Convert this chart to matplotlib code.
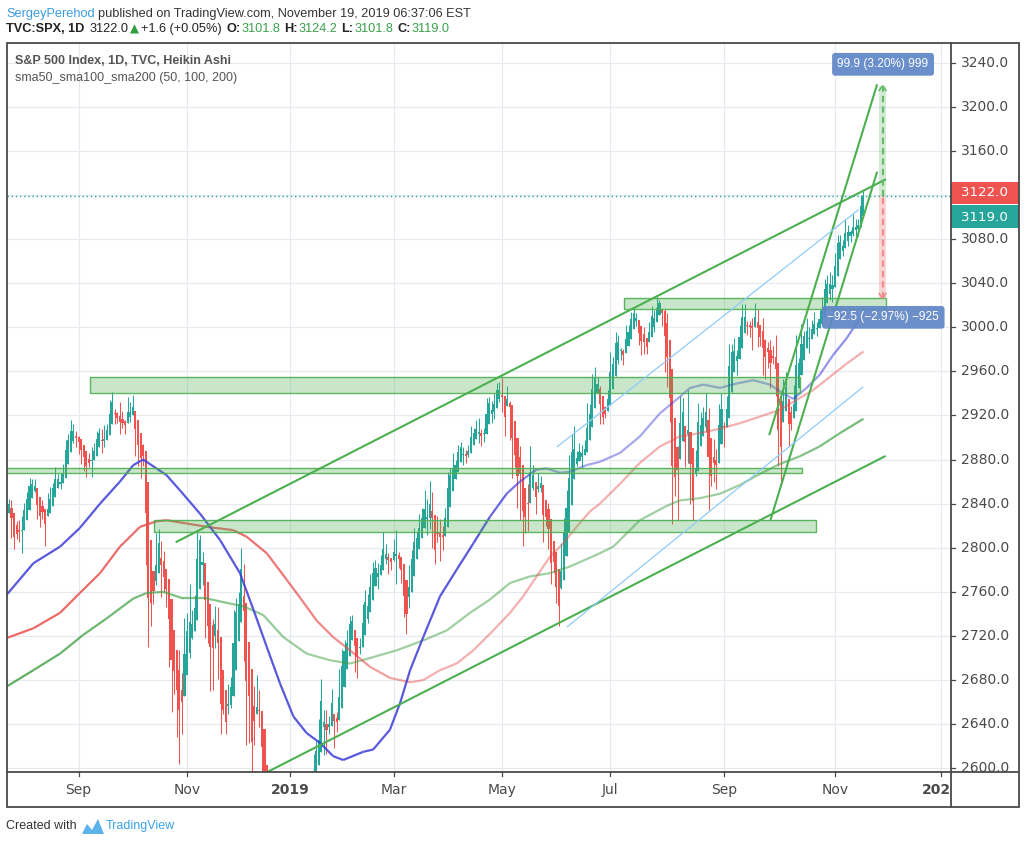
import numpy as np
import pandas as pd
import matplotlib
matplotlib.use('Agg')
import matplotlib.pyplot as plt
from matplotlib.collections import LineCollection
from matplotlib.patches import Rectangle, Polygon
from matplotlib.lines import Line2D
from matplotlib.colors import to_rgba

W, H = 1026, 844

# TVC:SPX daily, Jul 25 2018 .. Nov 18 2019 (open = previous close)
first_open = 2817.0
close = [
    2846, 2837, 2818, 2802, 2816,
    2813, 2827, 2840, 2850, 2858, 2858, 2853, 2833, 2821, 2840, 2818, 2840, 2850, 2857, 2863, 2862, 2856, 2875, 2897, 2898, 2914, 2901, 2902,
    2896, 2888, 2878, 2871, 2877, 2887, 2888, 2904, 2905, 2888, 2904, 2907, 2931, 2930, 2919, 2916, 2906, 2914, 2914,
    2924, 2923, 2926, 2902, 2886, 2884, 2881, 2786, 2728, 2767, 2750, 2809, 2809, 2769, 2768, 2756, 2741, 2657, 2706, 2659, 2641, 2682, 2712,
    2740, 2723, 2738, 2756, 2814, 2807, 2781, 2726, 2722, 2702, 2730, 2736, 2690, 2642, 2650, 2633, 2674, 2682, 2744, 2738, 2760,
    2790, 2700, 2696, 2633, 2638, 2636, 2651, 2650, 2600, 2546, 2546, 2507, 2467, 2417, 2351, 2468, 2489, 2486, 2507,
    2510, 2448, 2532, 2550, 2574, 2585, 2597, 2596, 2583, 2610, 2617, 2636, 2671, 2633, 2639, 2643, 2665, 2644, 2640, 2681, 2704,
    2707, 2725, 2738, 2732, 2706, 2708, 2709, 2744, 2753, 2746, 2776, 2780, 2784, 2775, 2793, 2796, 2793, 2792, 2784,
    2804, 2792, 2789, 2771, 2749, 2743, 2784, 2792, 2811, 2808, 2822, 2833, 2832, 2824, 2855, 2801, 2798, 2818, 2806, 2815, 2834,
    2867, 2867, 2873, 2880, 2893, 2896, 2879, 2888, 2888, 2907, 2906, 2908, 2900, 2905, 2907, 2934, 2927, 2926, 2940, 2943, 2946,
    2924, 2918, 2946, 2932, 2884, 2880, 2871, 2881, 2812, 2834, 2851, 2876, 2860, 2840, 2864, 2856, 2823, 2826, 2802, 2783, 2789, 2752,
    2744, 2803, 2826, 2843, 2873, 2886, 2885, 2879, 2891, 2887, 2889, 2917, 2926, 2954, 2950, 2945, 2917, 2913, 2924, 2942,
    2964, 2973, 2996, 2990, 2976, 2979, 2993, 3000, 3014, 3014, 3004, 2984, 2995, 2977, 2986, 3005, 3019, 3004, 3026, 3021, 3013, 2980,
    2953, 2932, 2844, 2881, 2884, 2938, 2919, 2883, 2926, 2840, 2848, 2889, 2923, 2900, 2925, 2922, 2847, 2878, 2869, 2888, 2924, 2926,
    2906, 2937, 2976, 2979, 2979, 2979, 3001, 3010, 3007, 2998, 3006, 3006, 3006, 2992, 2992, 2966, 2984, 2977, 2961, 2977,
    2940, 2887, 2911, 2952, 2938, 2893, 2919, 2938, 2970, 2966, 2996, 2990, 2998, 2986, 3007, 2996, 3005, 3010, 3023, 3040, 3036, 3047, 3038,
    3067, 3078, 3075, 3077, 3085, 3093, 3087, 3092, 3094, 3097, 3120, 3122,
]
high = [
    2848, 2844, 2843, 2821, 2824,
    2825, 2829, 2841, 2851, 2863, 2862, 2862, 2842, 2843, 2843, 2827, 2850, 2855, 2859, 2873, 2867, 2868, 2876, 2898, 2903, 2916, 2912, 2906,
    2901, 2893, 2892, 2884, 2886, 2891, 2895, 2906, 2909, 2908, 2911, 2912, 2934, 2941, 2926, 2923, 2932, 2924, 2916,
    2937, 2932, 2939, 2919, 2910, 2894, 2894, 2874, 2795, 2775, 2776, 2813, 2817, 2806, 2797, 2779, 2753, 2743, 2723, 2692, 2707, 2686, 2736,
    2741, 2767, 2744, 2757, 2815, 2812, 2796, 2784, 2755, 2747, 2735, 2747, 2746, 2670, 2671, 2655, 2676, 2683, 2744, 2754, 2760,
    2800, 2785, 2698, 2709, 2640, 2675, 2685, 2671, 2634, 2601, 2573, 2585, 2510, 2505, 2410, 2468, 2489, 2520, 2510,
    2519, 2493, 2538, 2566, 2580, 2595, 2597, 2597, 2589, 2613, 2625, 2645, 2681, 2653, 2653, 2647, 2672, 2645, 2651, 2690, 2708,
    2716, 2724, 2738, 2739, 2719, 2708, 2718, 2749, 2762, 2758, 2776, 2787, 2789, 2786, 2793, 2814, 2803, 2795, 2791,
    2808, 2816, 2796, 2790, 2767, 2744, 2784, 2798, 2818, 2814, 2831, 2836, 2852, 2844, 2861, 2851, 2809, 2829, 2826, 2820, 2836,
    2869, 2872, 2886, 2880, 2893, 2896, 2891, 2889, 2893, 2910, 2909, 2916, 2918, 2908, 2909, 2936, 2937, 2933, 2940, 2949, 2950,
    2954, 2931, 2947, 2933, 2920, 2898, 2875, 2892, 2840, 2852, 2858, 2892, 2875, 2853, 2868, 2865, 2836, 2841, 2841, 2791, 2799, 2768,
    2763, 2804, 2827, 2852, 2884, 2903, 2910, 2888, 2895, 2893, 2898, 2931, 2930, 2958, 2964, 2955, 2947, 2932, 2929, 2943,
    2978, 2973, 2996, 2993, 2981, 2980, 3002, 3002, 3014, 3017, 3013, 3006, 2996, 3000, 2990, 3005, 3019, 3016, 3027, 3025, 3017, 3017,
    3013, 2945, 2898, 2884, 2892, 2938, 2936, 2909, 2943, 2898, 2857, 2888, 2931, 2923, 2928, 2940, 2927, 2879, 2899, 2890, 2930, 2940,
    2914, 2938, 2985, 2985, 2990, 2979, 3002, 3021, 3021, 3006, 3006, 3008, 3022, 3017, 2999, 3008, 2989, 2987, 2988, 2983,
    2993, 2925, 2911, 2953, 2959, 2925, 2929, 2948, 2993, 2972, 3003, 2997, 3008, 3000, 3007, 3014, 3005, 3016, 3027, 3044, 3047, 3050, 3047,
    3067, 3084, 3084, 3079, 3098, 3093, 3088, 3103, 3098, 3098, 3120, 3124,
]
low = [
    2817, 2832, 2809, 2799, 2808,
    2805, 2795, 2828, 2835, 2854, 2853, 2851, 2826, 2819, 2826, 2802, 2833, 2833, 2850, 2858, 2856, 2853, 2860, 2885, 2894, 2897, 2895, 2891,
    2885, 2876, 2870, 2864, 2873, 2864, 2881, 2896, 2899, 2886, 2891, 2903, 2914, 2927, 2912, 2913, 2903, 2909, 2903,
    2917, 2914, 2922, 2883, 2874, 2863, 2874, 2784, 2710, 2729, 2749, 2766, 2784, 2755, 2760, 2746, 2692, 2651, 2667, 2628, 2604, 2631, 2685,
    2705, 2700, 2717, 2729, 2774, 2795, 2766, 2718, 2714, 2670, 2671, 2709, 2681, 2631, 2649, 2631, 2649, 2655, 2684, 2731, 2738,
    2774, 2697, 2621, 2623, 2583, 2621, 2650, 2637, 2593, 2530, 2528, 2489, 2441, 2409, 2351, 2347, 2398, 2473, 2488,
    2467, 2444, 2474, 2525, 2547, 2568, 2562, 2581, 2570, 2585, 2612, 2606, 2655, 2612, 2613, 2631, 2657, 2618, 2633, 2648, 2678,
    2697, 2696, 2724, 2727, 2687, 2682, 2704, 2724, 2745, 2732, 2760, 2767, 2775, 2763, 2778, 2794, 2785, 2776, 2780,
    2788, 2767, 2782, 2768, 2737, 2722, 2745, 2786, 2799, 2801, 2810, 2818, 2823, 2812, 2817, 2800, 2785, 2805, 2788, 2798, 2823,
    2848, 2858, 2865, 2867, 2882, 2880, 2875, 2877, 2882, 2898, 2896, 2901, 2895, 2892, 2896, 2908, 2926, 2913, 2917, 2939, 2932,
    2923, 2901, 2929, 2898, 2863, 2873, 2836, 2825, 2802, 2813, 2815, 2855, 2852, 2831, 2851, 2851, 2805, 2820, 2799, 2767, 2777, 2750,
    2729, 2763, 2800, 2822, 2853, 2884, 2878, 2874, 2881, 2873, 2886, 2896, 2913, 2938, 2947, 2944, 2912, 2912, 2918, 2929,
    2952, 2956, 2978, 2967, 2970, 2966, 2984, 2988, 3001, 3008, 3001, 2984, 2975, 2976, 2976, 2988, 2997, 2996, 3012, 3015, 3001, 2959,
    2946, 2914, 2822, 2847, 2825, 2894, 2900, 2873, 2877, 2840, 2825, 2865, 2914, 2899, 2917, 2905, 2834, 2856, 2860, 2853, 2905, 2914,
    2891, 2921, 2960, 2972, 2967, 2957, 2981, 3004, 3001, 2993, 2991, 2979, 3003, 2982, 2983, 2957, 2953, 2963, 2945, 2967,
    2938, 2874, 2856, 2918, 2935, 2892, 2907, 2918, 2963, 2962, 2973, 2986, 2991, 2977, 2992, 2995, 2992, 3000, 3001, 3033, 3033, 3025, 3023,
    3050, 3078, 3072, 3065, 3081, 3074, 3077, 3083, 3078, 3083, 3104, 3112,
]

holidays = ['2018-09-03', '2018-11-22', '2018-12-05', '2018-12-25', '2019-01-01',
            '2019-01-21', '2019-02-18', '2019-04-19', '2019-05-27', '2019-07-04',
            '2019-09-02', '2019-11-28', '2019-12-25', '2020-01-01']
month_starts = ['2018-09-01', '2018-11-01', '2019-01-01', '2019-03-01', '2019-05-01',
                '2019-07-01', '2019-09-01', '2019-11-01', '2020-01-01']
month_labels = ['Sep', 'Nov', '2019', 'Mar', 'May', 'Jul', 'Sep', 'Nov', '2020']
price_ticks = list(range(2600, 3241, 40))

# moving averages (bar index, value)
sma50_x = [0, 10.5, 20.8, 28.5, 36.3, 44, 49.2, 53, 62, 67.3, 75, 82.8, 90.5, 95.7, 100.9, 106, 111.2,
           116.3, 121.5, 126.6, 130.5, 138.3, 142.1, 148.6, 152.5, 156.4, 161.5, 168, 174.4, 180.9,
           187.3, 193.8, 198.9, 205.4, 209.3, 214.4, 218.3, 224.8, 229.9, 237.7, 245.4, 253.2, 260.9,
           264.8, 270, 276.4, 282.9, 289.3, 295.8, 300.9, 304.8, 310, 315.1, 320.3, 325.5, 329.4, 332]
sma50_y = [2757, 2786, 2801, 2818, 2840, 2860, 2875, 2880, 2866, 2852, 2831, 2807, 2777, 2744, 2710, 2677, 2647,
           2632, 2623, 2611, 2607.5, 2615, 2617, 2635, 2659, 2689, 2719, 2756, 2780, 2804,
           2828, 2849, 2860, 2871, 2872, 2868, 2869, 2875, 2878, 2886, 2901, 2922, 2937,
           2945, 2948, 2945, 2949, 2952, 2948, 2940, 2935, 2945, 2957, 2975, 2990, 3004, 3010]
sma100_x = [0, 10.5, 20.8, 28.5, 36.3, 44, 51.8, 58.2, 62.1, 69.9, 77.6, 87.9, 93.1, 100.9, 108.6, 113.7,
            120.2, 126.6, 133.1, 140.9, 148.6, 156.4, 161.5, 168, 174.4, 180.9, 188.6, 195.1, 200.2,
            205.4, 210.6, 215.7, 220.9, 226.1, 229.9, 237.7, 245.4, 253.2, 260.9, 268.7, 276.4, 284.2,
            291.9, 299.6, 307.4, 312.5, 319, 325.5, 332]
sma100_y = [2718, 2727, 2741, 2759, 2777, 2801, 2819, 2824, 2825, 2822, 2819, 2816, 2810, 2795, 2771, 2755,
            2734, 2719, 2707, 2692, 2682, 2678, 2680, 2689, 2695, 2707, 2725, 2741, 2756,
            2774, 2792, 2804, 2819, 2833, 2840, 2858, 2877, 2892, 2901, 2904, 2908, 2913,
            2919, 2925, 2936, 2943, 2955, 2967, 2978]
sma200_x = [0, 10.5, 20.8, 29.8, 38.9, 49.2, 54.4, 60.8, 68.6, 77.6, 85.4, 91.8, 99.5, 107.3, 116.3, 125.4,
            133.1, 140.9, 151.2, 161.5, 170.6, 179.6, 187.3, 195.1, 202.8, 210.6, 218.3, 229.9, 235.1,
            245.4, 255.8, 260.9, 268.7, 276.4, 284.2, 291.9, 299.6, 307.4, 315.1, 322.9, 332]
sma200_y = [2674, 2689, 2704, 2721, 2736, 2754, 2759, 2760, 2754, 2754, 2750, 2747, 2739, 2719, 2704, 2698,
            2695, 2700, 2707, 2716, 2725, 2741, 2753, 2768, 2774, 2777, 2783, 2795, 2801,
            2825, 2838, 2843, 2845, 2849, 2857, 2867, 2876, 2883, 2892, 2904, 2917]

# drawings (bar index, price)
zones = [(32.4, 307.4, 2940.5, 2954.7), (-5, 308.2, 2867.9, 2872.4),
         (57.3, 313.5, 2814.6, 2825.2), (239.2, 340.6, 3016.3, 3026.6)]
green_lines = [[(65.6, 2805.0), (340.7, 3134.3)], [(65.6, 2554.1), (340.6, 2883.3)],
               [(295.5, 2902.2), (337.3, 3220.3)], [(296.0, 2825.2), (337.3, 3141.0)]]
blue_lines = [[(213.4, 2891.7), (330.0, 3106.4)], [(217.3, 2728.4), (331.7, 2945.6)]]
last_price, ha_last = 3122.0, 3119.0
target_up, target_down = 3218.9, 3026.5
measure_x = 339.4

# heikin ashi
c = np.array(close, float)
h = np.maximum(np.array(high, float), c)
l = np.minimum(np.array(low, float), c)
o = np.r_[first_open, c[:-1]]
ha_c = (o + h + l + c) / 4
ha_o = np.empty_like(ha_c)
ha_o[0] = (o[0] + c[0]) / 2
for i in range(1, len(c)):
    ha_o[i] = (ha_o[i - 1] + ha_c[i - 1]) / 2
ha_h = np.maximum.reduce([h, ha_o, ha_c])
ha_l = np.minimum.reduce([l, ha_o, ha_c])
x = np.arange(len(c))

days = pd.bdate_range('2018-07-25', '2020-01-15')
days = days[~days.isin(pd.to_datetime(holidays))]
tick_idx = [int(np.searchsorted(days, pd.Timestamp(m))) for m in month_starts]

UP, DOWN = '#26a69a', '#ef5350'
FRAME = '#4a4a4a'
TXT = '#4a4a4a'

fig = plt.figure(figsize=(W / 100, H / 100), dpi=100)
fig.patch.set_facecolor('white')

def px(x0, y0):
    return x0 / W, 1 - y0 / H

L, R, T, B = 6.7, 950.7, 42.7, 771.7
ax = fig.add_axes([L / W, 1 - B / H, (R - L) / W, (B - T) / H])
xlim = (0.15, 365.8)
ylim = (2596.9, 3258.1)
ax.set_xlim(*xlim)
ax.set_ylim(*ylim)
ax.set_xticks([])
ax.set_yticks([])
for s in ax.spines.values():
    s.set_visible(False)

# grid
for t in tick_idx:
    ax.axvline(t, color='#e4eaef', lw=0.8, zorder=0)
for p in price_ticks:
    ax.axhline(p, color='#e4eaef', lw=0.8, zorder=0)

# candles
col = np.where(ha_c >= ha_o, UP, DOWN)
ax.vlines(x, ha_l, ha_h, colors=col, lw=0.75, zorder=2)
body_lo = np.minimum(ha_o, ha_c)
body_h = np.maximum(np.abs(ha_c - ha_o), 0.8)
ax.bar(x, body_h, bottom=body_lo, width=0.82, color=col, lw=0, zorder=2)

# moving averages with fading opacity
def sma_line(xs, ys, color, ax_pts, a_pts):
    xs = np.asarray(xs, float)
    ys = np.asarray(ys, float)
    pts = np.column_stack([xs, ys])
    segs = np.stack([pts[:-1], pts[1:]], axis=1)
    mids = (xs[:-1] + xs[1:]) / 2
    alphas = np.interp(mids, ax_pts, a_pts)
    lc = LineCollection(segs, colors=[to_rgba(color, a) for a in alphas],
                        linewidths=1.6, capstyle='butt', zorder=3)
    ax.add_collection(lc)

sma_line(sma200_x, sma200_y, '#43a047', [0, 40, 120, 280, 332], [0.85, 0.75, 0.5, 0.5, 0.75])
sma_line(sma100_x, sma100_y, '#e84e4e', [0, 100, 160, 332], [0.85, 0.8, 0.45, 0.45])
sma_line(sma50_x, sma50_y, '#3c3cd8', [0, 185, 215, 300, 332], [0.85, 0.85, 0.45, 0.45, 0.6])

# zones
for x0, x1, y0, y1 in zones:
    ax.add_patch(Rectangle((x0, y0), x1 - x0, y1 - y0, fc='#4caf50', alpha=0.3, lw=0, zorder=4))
    ax.add_patch(Rectangle((x0, y0), x1 - x0, y1 - y0, fill=False, ec='#4caf50', lw=1.0, alpha=0.9, zorder=4))

for (x0, y0), (x1, y1) in green_lines:
    ax.plot([x0, x1], [y0, y1], color='#4caf50', lw=1.5, zorder=5, solid_capstyle='butt')
for (x0, y0), (x1, y1) in blue_lines:
    ax.plot([x0, x1], [y0, y1], color='#90caf9', lw=0.9, zorder=5)

# last price line
ax.axhline(ha_last, color='#26a69a', lw=1.0, ls=(0, (1, 2)), zorder=5)

# measure tool
ax.add_patch(Rectangle((measure_x - 1.4, ha_last), 2.8, target_up - ha_last, fc='#4caf50', alpha=0.25, lw=0, zorder=5))
ax.add_patch(Rectangle((measure_x - 1.4, target_down), 2.8, ha_last - target_down, fc='#ef5350', alpha=0.25, lw=0, zorder=5))
ax.plot([measure_x, measure_x], [ha_last, target_up], color='#66bb6a', lw=1.5, ls=(0, (3, 2)), zorder=6)
ax.plot([measure_x, measure_x], [target_down, ha_last], color='#f28b8b', lw=1.5, ls=(0, (3, 2)), zorder=6)
ax.plot([measure_x - 1.3, measure_x, measure_x + 1.3], [target_up - 4, target_up, target_up - 4], color='#66bb6a', lw=1.2, zorder=6)
ax.plot([measure_x - 1.3, measure_x, measure_x + 1.3], [target_down + 4, target_down, target_down + 4], color='#f28b8b', lw=1.2, zorder=6)
up_pct = (target_up - ha_last) / ha_last * 100
dn_pct = (target_down - ha_last) / ha_last * 100
ax.text(339.6, 3238.5, f'{target_up - ha_last:.1f} ({up_pct:.2f}%) {round((target_up - ha_last) * 10)}',
        ha='center', va='center', color='white', fontsize=8.6, family='Liberation Sans', zorder=8,
        bbox=dict(boxstyle='round,pad=0.45,rounding_size=0.25', fc='#6a8fcb', ec='none'))
ax.text(339.7, 3009, f'\u2212{ha_last - target_down:.1f} (\u2212{-dn_pct:.2f}%) \u2212{round((ha_last - target_down) * 10)}',
        ha='center', va='center', color='white', fontsize=8.6, family='Liberation Sans', zorder=8,
        bbox=dict(boxstyle='round,pad=0.45,rounding_size=0.25', fc='#5f86c6', ec='none', alpha=0.92))

# legend inside chart
fig.text(*px(15, 61), 'S&P 500 Index, 1D, TVC, Heikin Ashi', fontsize=9, fontweight='bold',
         family='Liberation Sans', color='#555555', va='center')
fig.text(*px(15, 77.5), 'sma50_sma100_sma200 (50, 100, 200)', fontsize=9,
         family='Liberation Sans', color='#555555', va='center')

# price scale (the 3120 level sits under the last-price tags)
axp = fig.add_axes([R / W, 1 - B / H, (1019.3 - R) / W, (B - T) / H])
axp.set_xlim(0, 1019.3 - R)
axp.set_ylim(*ylim)
axp.axis('off')
tag_lo, tag_hi = 3089.8, 3132.1
for p in price_ticks:
    if tag_lo <= p <= tag_hi:
        continue
    axp.plot([0, 4.3], [p, p], color=FRAME, lw=0.9, clip_on=True)
    axp.text(10.2, p, f'{p:.1f}', va='center', ha='left', fontsize=10, color=TXT, clip_on=True)
axp.add_patch(Rectangle((0, 3111.6), 68.6, 20.5, fc=DOWN, lw=0))
axp.text(10.2, 3122.2, f'{last_price:.1f}', va='center', ha='left', fontsize=9.6, color='white')
axp.add_patch(Rectangle((0, 3089.8), 68.6, 21.1, fc=UP, lw=0))
axp.text(10.2, 3099.8, f'{ha_last:.1f}', va='center', ha='left', fontsize=9.6, color='white')

# time scale
axt = fig.add_axes([L / W, 1 - 807.3 / H, (R - L) / W, (807.3 - B) / H])
axt.set_xlim(*xlim)
axt.set_ylim(0, 807.3 - B)
axt.axis('off')
for t, lab in zip(tick_idx, month_labels):
    axt.plot([t, t], [35.6, 31.4], color=FRAME, lw=0.9)
    axt.text(t, 17.3, lab, ha='center', va='center', fontsize=10, color=TXT,
             fontweight='bold' if lab.isdigit() else 'normal', clip_on=True)

# frame
fr = dict(color=FRAME, lw=1.3, transform=fig.transFigure)
fig.add_artist(Rectangle(px(L, 807.3), (1019.3 - L) / W, (807.3 - T) / H, fill=False,
                         ec=FRAME, lw=1.3, transform=fig.transFigure))
fig.add_artist(Line2D([L / W, 1019.3 / W], [1 - B / H, 1 - B / H], **fr))
fig.add_artist(Line2D([R / W, R / W], [1 - T / H, 1 - 807.3 / H], **fr))

# header
renderer = fig.canvas.get_renderer()

def line_of(x0, y0, parts):
    for s, kw, gap in parts:
        t = fig.text(*px(x0, y0), s, va='center', ha='left', **kw)
        x0 += t.get_window_extent(renderer).width + gap

hf = dict(family='Liberation Sans', fontsize=9.2)
G = '#3aa04a'
line_of(6, 13.5, [
    ('SergeyPerehod', dict(color='#3a9be0', **hf), 3),
    ('published on TradingView.com, November 19, 2019 06:37:06 EST', dict(color='#333333', **hf), 0),
])
line_of(6, 29, [
    ('TVC:SPX, 1D', dict(color='#222222', fontweight='bold', **hf), 5),
    ('3122.0', dict(color='#222222', **hf), 2),
    ('\u25B2', dict(color='#2e9e3f', family='DejaVu Sans', fontsize=8.5), 2),
    ('+1.6 (+0.05%)', dict(color='#222222', **hf), 4),
    ('O:', dict(color='#222222', fontweight='bold', **hf), 1),
    ('3101.8', dict(color=G, **hf), 4),
    ('H:', dict(color='#222222', fontweight='bold', **hf), 1),
    ('3124.2', dict(color=G, **hf), 4),
    ('L:', dict(color='#222222', fontweight='bold', **hf), 1),
    ('3101.8', dict(color=G, **hf), 4),
    ('C:', dict(color='#222222', fontweight='bold', **hf), 1),
    ('3119.0', dict(color=G, **hf), 0),
])

# footer
fig.text(*px(6, 826), 'Created with', fontsize=9, family='Liberation Sans', color='#333333', va='center')
logo = [(82, 834), (87, 824), (92, 830), (98, 819), (104, 834)]
fig.add_artist(Polygon([px(a, b) for a, b in logo], closed=True, fc='#5bb3ea', ec='none',
                       transform=fig.transFigure))
fig.text(*px(106, 826), 'TradingView', fontsize=9, family='Liberation Sans', color='#3aa1e6', va='center')

fig.savefig('out.png', dpi=100, facecolor='white')
